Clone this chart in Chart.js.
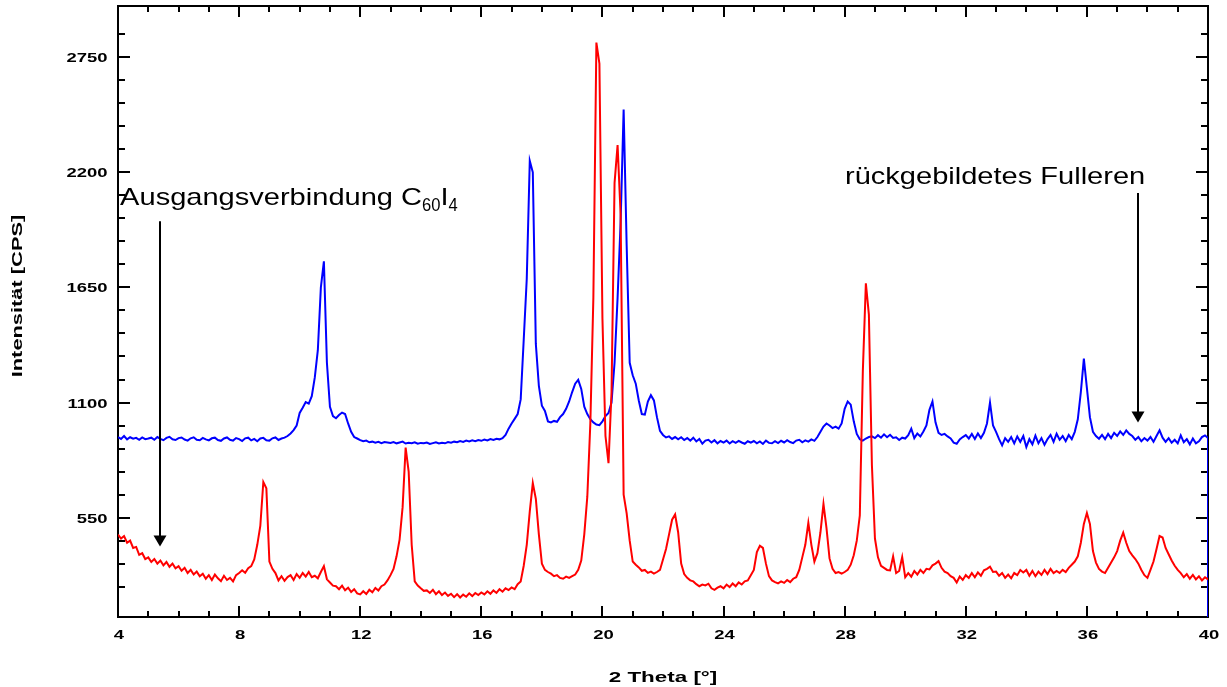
<!DOCTYPE html>
<html>
<head>
<meta charset="utf-8">
<script src="https://cdn.jsdelivr.net/npm/chart.js@4"></script>
<style>
  html, body { margin: 0; padding: 0; background: #fff; }
  canvas { display: block; }
</style>
</head>
<body>
<canvas id="xrd" width="1227" height="687" style="width:1227px;height:687px"></canvas>
<script>
// scan grid: 2 theta from 4 to 40 deg in 0.1 deg steps
const thetaStart = 4;
const thetaStep = 0.1;

const xTickLabels = [4, 8, 12, 16, 20, 24, 28, 32, 36, 40];
const yTickLabels = [550, 1100, 1650, 2200, 2750];

// rückgebildetes Fulleren (blue), one row per degree
const blueCounts = [
  935, 926, 940, 924, 934, 927, 931, 922, 933, 925,
  928, 932, 922, 935, 926, 920, 931, 936, 924, 921,
  930, 933, 923, 918, 929, 934, 922, 920, 931, 924,
  919, 929, 932, 921, 917, 928, 933, 922, 918, 930,
  925, 916, 929, 932, 919, 926, 915, 928, 931, 920,
  918, 929, 933, 921, 928, 932, 940, 952, 968, 990,
  1050, 1075, 1102, 1095, 1130, 1220, 1350, 1650, 1775, 1290,
  1080, 1035, 1025, 1040, 1052, 1045, 1000, 960, 935, 928,
  920, 915, 918, 910, 913, 908, 912, 906, 911, 909,
  907, 911, 905, 909, 913, 904, 908, 906, 910, 903,
  907, 905, 909, 902, 906, 910, 904, 908, 905, 911,
  908, 913, 910, 916, 912, 918, 914, 919, 915, 921,
  917, 923, 919, 925, 921, 927, 924, 930, 945, 975,
  1000, 1022, 1045, 1115, 1400, 1690, 2255, 2200, 1380, 1180,
  1085, 1060, 1010, 1005, 1012, 1008, 1030, 1045, 1070, 1105,
  1150, 1190, 1208, 1165, 1080, 1045, 1020, 1005, 995, 992,
  1010, 1035, 1050, 1100, 1290, 1600, 1960, 2500, 1850, 1290,
  1230, 1190, 1110, 1045, 1042, 1105, 1135, 1110, 1030, 965,
  945, 933, 938, 926, 935, 924, 934, 921, 930, 918,
  932, 914, 926, 903, 918, 922, 909, 920, 905, 916,
  908, 918, 904, 915, 907, 917, 909, 903, 915, 908,
  916, 905, 914, 902, 918, 907, 905, 915, 906, 917,
  909, 920, 911, 906, 918, 922, 910, 919, 913, 924,
  917, 935, 960, 985, 1000, 990, 978, 985, 975, 1000,
  1070, 1105, 1090, 1010, 950, 925, 918, 928, 935, 938,
  930, 944, 932, 948, 934, 946, 931, 934, 921, 932,
  928, 944, 975, 930, 952, 938, 962, 990, 1065, 1105,
  1005, 955, 945, 950, 938, 928, 908, 903, 924, 935,
  944, 928, 950, 926, 952, 930, 955, 1000, 1100, 990,
  960, 925, 895, 930, 912, 935, 905, 938, 912, 940,
  887, 925, 900, 942, 905, 930, 898, 925, 945, 912,
  951, 922, 940, 915, 945, 925, 960, 1020, 1150, 1310,
  1170, 1030, 960, 940, 927, 945, 925, 950, 930, 955,
  940, 962, 945, 967, 950, 940, 922, 935, 915, 930,
  918, 935, 912, 940, 967, 932, 912, 930, 908, 922,
  905, 943, 910, 925, 900, 928, 905, 915, 935, 943,
  930
];
// the blue trace falls to zero at the end of the scan
const blueTail = [0];

// Ausgangsverbindung C60I4 (red), one row per degree
const redCounts = [
  469, 450, 462, 430, 440, 405, 410, 372, 380, 352,
  360, 338, 352, 330, 345, 322, 338, 315, 330, 308,
  318, 296, 310, 285, 300, 278, 292, 270, 282, 258,
  275, 252, 278, 260, 246, 272, 252, 262, 245, 275,
  285, 298, 286, 308, 318, 350, 420, 510, 720, 690,
  340, 305, 285, 250, 270, 248, 266, 275, 252, 280,
  262, 285, 268, 290, 265, 272, 260, 290, 318, 255,
  240, 225, 222, 208, 225, 203, 215, 195, 208, 188,
  183, 198, 185, 205, 193, 214, 202, 222, 230, 250,
  275, 305, 365, 445, 600, 885, 770, 420, 245, 225,
  212, 200, 202, 190, 205, 184, 198, 180, 192, 176,
  186, 170, 184, 168, 182, 172, 188, 175, 190, 180,
  192, 183, 198, 186, 202, 190, 208, 196, 212, 204,
  216, 208, 232, 245, 320, 420, 580, 715, 640, 470,
  330, 300, 290, 282, 270, 275, 262, 258, 268, 262,
  270, 278, 300, 345, 470, 650, 1000, 1600, 2820, 2720,
  1500, 940, 810, 1150, 2150, 2330, 2000, 660, 570, 440,
  340, 325, 312, 296, 300, 286, 292, 282, 290, 300,
  350, 400, 470, 540, 565, 480, 330, 280, 262, 250,
  245, 232, 222, 230, 226, 234, 212, 205, 215, 222,
  212, 230, 218, 235, 222, 240, 230, 245, 250, 275,
  300, 385, 415, 405, 330, 270, 250, 242, 236, 245,
  238, 252, 242, 258, 265, 300, 360, 420, 525, 420,
  340, 380, 480, 615, 500, 355, 305, 285, 290, 282,
  290, 300, 325, 370, 440, 560, 1250, 1670, 1520, 800,
  450, 360, 320, 310, 300, 298, 365, 285, 295, 362,
  265, 285, 268, 295, 278, 300, 285, 305, 302, 322,
  330, 342, 310, 292, 285, 270, 262, 240, 268, 252,
  275, 262, 285, 265, 288, 272, 298, 305, 315, 290,
  292, 272, 285, 262, 278, 260, 285, 275, 300, 288,
  300, 272, 295, 270, 292, 276, 300, 280, 305, 285,
  295, 285, 300, 290, 310, 325, 340, 365, 430, 520,
  572, 520, 390, 335, 305, 292, 285, 310, 335, 360,
  390, 440, 478, 430, 390, 370, 352, 330, 300, 275,
  262, 300, 340, 400, 462, 455, 405, 375, 345, 320,
  300, 285, 265, 280, 258, 276, 255, 270, 250, 265,
  255
];

const FONT = '"Liberation Sans", Arial, sans-serif';

const toPoints = (counts) =>
  counts.map((y, i) => ({ x: Math.round((thetaStart + i * thetaStep) * 10) / 10, y }));

const bluePoints = toPoints(blueCounts).concat(blueTail.map((y) => ({ x: 40, y })));
const redPoints = toPoints(redCounts);

// draw text stretched sideways (the original uses very wide lettering)
function wideText(ctx, text, x, y, sx, align) {
  const w = ctx.measureText(text).width * sx;
  let left = x;
  if (align === "right") left = x - w;
  if (align === "center") left = x - w / 2;
  ctx.save();
  ctx.translate(left, y);
  ctx.scale(sx, 1);
  ctx.textAlign = "left";
  ctx.fillText(text, 0, 0);
  ctx.restore();
  return w;
}

function arrow(ctx, x, yTop, yTip) {
  ctx.beginPath();
  ctx.moveTo(x, yTop);
  ctx.lineTo(x, yTip - 8);
  ctx.stroke();
  ctx.beginPath();
  ctx.moveTo(x, yTip);
  ctx.lineTo(x - 6.5, yTip - 11);
  ctx.lineTo(x + 6.5, yTip - 11);
  ctx.closePath();
  ctx.fill();
}

const framePlugin = {
  id: "frame",
  beforeDatasetsDraw(chart) {
    const { ctx, chartArea: a } = chart;
    const { x, y } = chart.scales;
    ctx.save();
    ctx.strokeStyle = "#000";
    ctx.lineWidth = 2;
    ctx.strokeRect(a.left, a.top, a.right - a.left, a.bottom - a.top);
    ctx.beginPath();
    x.ticks.forEach((t) => {
      const v = t.value;
      if (Math.abs(v - Math.round(v)) > 1e-6 || v <= x.min || v >= x.max) return;
      const len = Math.round(v) % 4 === 0 ? 11 : 6;
      const px = Math.round(x.getPixelForValue(v));
      ctx.moveTo(px, a.bottom);
      ctx.lineTo(px, a.bottom - len);
      ctx.moveTo(px, a.top);
      ctx.lineTo(px, a.top + len);
    });
    y.ticks.forEach((t) => {
      const v = t.value;
      if (v % 110 !== 0) return;
      const len = v % 550 === 0 ? 12 : 7;
      const py = Math.round(y.getPixelForValue(v));
      ctx.moveTo(a.left, py);
      ctx.lineTo(a.left + len, py);
      ctx.moveTo(a.right, py);
      ctx.lineTo(a.right - len, py);
    });
    ctx.stroke();
    ctx.restore();
  },
  afterDraw(chart) {
    const { ctx, chartArea: a } = chart;
    const { x, y } = chart.scales;
    ctx.save();
    ctx.fillStyle = "#000";
    ctx.strokeStyle = "#000";

    // tick labels
    ctx.font = "bold 13px " + FONT;
    ctx.textBaseline = "alphabetic";
    yTickLabels.forEach((v) => {
      wideText(ctx, String(v), a.left - 10.5, y.getPixelForValue(v) + 5, 1.42, "right");
    });
    xTickLabels.forEach((v) => {
      wideText(ctx, String(v), x.getPixelForValue(v) + 1, a.bottom + 21.5, 1.42, "center");
    });

    // axis titles
    ctx.font = "bold 14px " + FONT;
    ctx.textBaseline = "middle";
    wideText(ctx, "2 Theta [°]", 663, 678, 1.6, "center");
    ctx.save();
    ctx.translate(18.5, 296);
    ctx.rotate(-Math.PI / 2);
    wideText(ctx, "Intensität [CPS]", 0, 0, 1.56, "center");
    ctx.restore();

    // annotations
    ctx.textBaseline = "alphabetic";
    let tx = x.getPixelForValue(4.07);
    const ty = y.getPixelForValue(2043);
    ctx.font = "24px " + FONT;
    tx += wideText(ctx, "Ausgangsverbindung C", tx, ty, 1.21, "left");
    ctx.font = "18px " + FONT;
    tx += wideText(ctx, "60", tx, ty + 6, 0.92, "left");
    ctx.font = "24px " + FONT;
    tx += wideText(ctx, "I", tx, ty, 1.21, "left");
    ctx.font = "18px " + FONT;
    wideText(ctx, "4", tx, ty + 6, 0.92, "left");

    ctx.font = "24px " + FONT;
    wideText(ctx, "rückgebildetes Fulleren", x.getPixelForValue(28.01), y.getPixelForValue(2144), 1.21, "left");

    ctx.lineWidth = 2;
    arrow(ctx, Math.round(x.getPixelForValue(5.39)), y.getPixelForValue(1966), y.getPixelForValue(412));
    arrow(ctx, Math.round(x.getPixelForValue(37.7)), y.getPixelForValue(2101), y.getPixelForValue(1004));
    ctx.restore();
  },
};

new Chart(document.getElementById("xrd"), {
  type: "line",
  data: {
    datasets: [
      {
        label: "Ausgangsverbindung C60I4",
        data: redPoints,
        borderColor: "#ff0000",
        borderWidth: 2,
        pointRadius: 0,
        tension: 0,
      },
      {
        label: "rückgebildetes Fulleren",
        data: bluePoints,
        borderColor: "#0000ff",
        borderWidth: 2,
        pointRadius: 0,
        tension: 0,
      },
    ],
  },
  options: {
    responsive: false,
    devicePixelRatio: 1,
    animation: false,
    events: [],
    layout: { padding: { left: 0, right: 19, top: 6, bottom: 0 } },
    plugins: { legend: { display: false }, tooltip: { enabled: false } },
    scales: {
      x: {
        type: "linear",
        min: 4,
        max: 40,
        ticks: { stepSize: 1, display: false },
        grid: { display: false, drawTicks: false },
        border: { display: false },
        afterFit: (s) => { s.height = 70; },
      },
      y: {
        type: "linear",
        min: 75,
        max: 2995,
        ticks: { stepSize: 110, display: false },
        grid: { display: false, drawTicks: false },
        border: { display: false },
        afterFit: (s) => { s.width = 118; },
      },
    },
  },
  plugins: [framePlugin],
});
</script>
</body>
</html>
